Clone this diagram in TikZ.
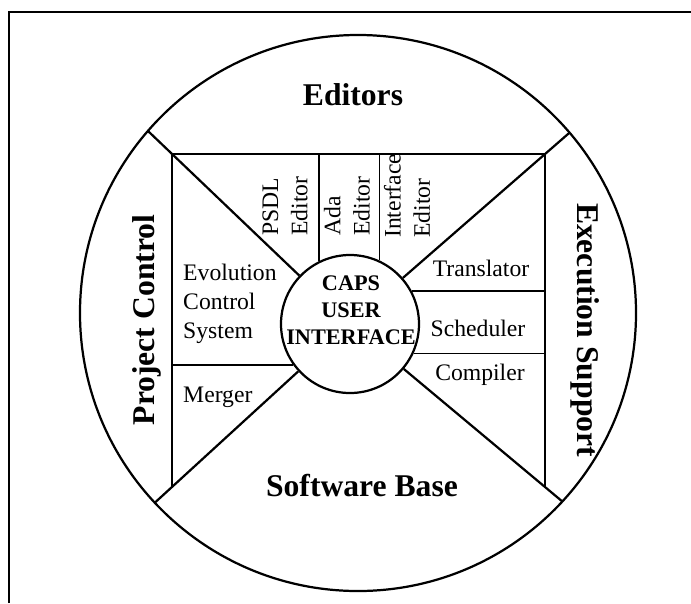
\documentclass[tikz,border=0pt]{standalone}
\usepackage{fontspec}
\setmainfont{Liberation Serif}
\tikzstyle{ring}=[circle, draw, line width=1.9pt
,inner sep=0pt
]
\tikzstyle{area label} = [font=\bfseries\fontsize{27}{30}\selectfont, inner sep=0pt]
\tikzstyle{tool label} = [font=\fontsize{20.2}{25}\selectfont, inner sep=0pt]
\tikzstyle{hub label} = [font=\bfseries\fontsize{19}{23}\selectfont, align=center, inner sep=0pt]
\tikzstyle{spoke} = [draw, line width=1.9pt]
\tikzstyle{wall} = [draw, line width=1.4pt]

\begin{document}
\begin{tikzpicture}[x=0.03cm, y=-0.03cm]
    \useasboundingbox (0,0) rectangle (691,603);
    % frame of the scan, only top and left edge show
    \draw[line width=1.7pt] (9,603) -- (9,12) -- (691,12);

    % First the wheel and the hub
    \node[ring, minimum size=16.68cm] (wheel) at (358,313) {};
    \node[ring, minimum size=4.14cm] (caps) at (350,324) {};

    % rim points and corners of the inner box
    \foreach \x/\y/\name in {148/131/ul, 569.5/132.7/ur, 154.8/502.7/ll, 562.6/501.7/lr,
                             172/154/tl, 545/154/tr, 172/487/bl, 545/487/br}
        \coordinate (\name) at (\x,\y);

    % spokes from the rim to the hub
    \foreach \source in {ul, ur, ll, lr}
        \path[spoke] (\source) -- (caps);

    % inner box and the walls between the tools
    \path[wall] (bl) -- (tl) -- (tr) -- (br);
    \path[wall] (caps.116) -- (caps.116 |- tl);
    \path[wall] (caps.65) -- (caps.65 |- tl);
    \path[wall] (caps.28) -- (caps.28 -| tr);
    \path[wall] (caps.-25) -- (caps.-25 -| br);
    \path[wall] (caps.216) -- (caps.216 -| tl);

    % the four areas
    \node[area label] (edit) at (353,95) {Editors};
    \node[area label] (base) at (362,486) {Software Base};
    \node[area label, rotate=90] (proj) at (147,320) {Project Control};
    \node[area label, rotate=-90] (exec) at (585,330) {Execution Support};

    % the hub
    \node[hub label] (capslbl) at (351,310) {CAPS\\USER\\INTERFACE};

    % tools round the hub
    \foreach \x/\y/\name/\txt in {285/236/psdl/PSDL\\Editor, 347/236/ada/Ada\\Editor, 407/238/intf/Interface\\Editor}
        \node[tool label, rotate=90, anchor=west, align=left] (\name) at (\x,\y) {\txt};
    \foreach \x/\y/\name/\txt in {183/304/evol/Evolution\\Control\\System, 183/397/merge/Merger}
        \node[tool label, anchor=west, align=left] (\name) at (\x,\y) {\txt};
    \foreach \x/\y/\name/\txt in {481/268/trans/Translator, 478/328/sched/Scheduler, 480/375/comp/Compiler}
        \node[tool label] (\name) at (\x,\y) {\txt};
\end{tikzpicture}
\end{document}
